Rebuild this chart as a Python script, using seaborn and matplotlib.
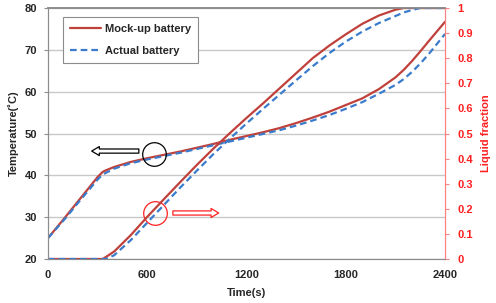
#!/usr/bin/env python3
"""Temperature and liquid fraction of the mock-up vs actual battery over time."""

import matplotlib.pyplot as plt
import pandas as pd
import seaborn as sns
from matplotlib.lines import Line2D

# values
TIME_S = [0, 100, 200, 300, 330, 350, 400, 500, 600, 700, 800, 900, 1000, 1100,
          1200, 1300, 1400, 1500, 1600, 1700, 1800, 1900, 2000, 2100, 2150,
          2200, 2250, 2300, 2400]
TEMP_MOCKUP = [25.0, 29.8, 34.7, 39.6, 40.8, 41.2, 42.0, 43.2, 44.1, 44.9, 45.7,
               46.6, 47.5, 48.5, 49.4, 50.3, 51.3, 52.5, 53.8, 55.2, 56.8, 58.4,
               60.6, 63.4, 65.2, 67.3, 69.6, 72.0, 76.7]
TEMP_ACTUAL = [25.0, 29.5, 34.3, 39.0, 40.2, 40.6, 41.6, 42.9, 43.8, 44.6, 45.4,
               46.3, 47.2, 48.1, 49.0, 49.9, 50.8, 51.9, 53.1, 54.4, 55.9, 57.5,
               59.5, 61.6, 63.0, 64.7, 66.7, 68.9, 73.8]
LF_MOCKUP = [0, 0, 0, 0, 0, 0.008, 0.03, 0.095, 0.168, 0.238, 0.307, 0.375, 0.44,
             0.502, 0.562, 0.62, 0.68, 0.74, 0.80, 0.85, 0.895, 0.937, 0.97,
             0.993, 1.0, 1.0, 1.0, 1.0, 1.0]
LF_ACTUAL = [0, 0, 0, 0, 0, 0, 0.015, 0.075, 0.145, 0.215, 0.285, 0.352, 0.418,
             0.48, 0.54, 0.598, 0.655, 0.712, 0.768, 0.82, 0.866, 0.906, 0.94,
             0.968, 0.982, 0.992, 1.0, 1.0, 1.0]

SERIES = ["Mock-up battery", "Actual battery"]
X_TICKS = [0, 600, 1200, 1800, 2400]
LF_TICKS = [0, 0.1, 0.2, 0.3, 0.4, 0.5, 0.6, 0.7, 0.8, 0.9, 1]
LF_TICK_LABELS = ["0", "0.1", "0.2", "0.3", "0.4", "0.5", "0.6", "0.7", "0.8", "0.9", "1"]

# annotation marks (time, temperature)
BLACK_CIRCLE = (642, 45.0)
BLACK_ARROW = (549, 264, 45.8)
RED_CIRCLE = (648, 30.9)
RED_ARROW = (755, 1032, 31.0)

RED = "#c0413b"
BLUE = "#3a7ccb"
AXIS_RED = "#ff2020"

df = pd.DataFrame({
    "time": TIME_S * 2,
    "temp": TEMP_MOCKUP + TEMP_ACTUAL,
    "lf": LF_MOCKUP + LF_ACTUAL,
    "battery": [SERIES[0]] * len(TIME_S) + [SERIES[1]] * len(TIME_S),
})

sns.set_style("white")
plt.rcParams["font.family"] = ["Liberation Sans", "DejaVu Sans"]
plt.rcParams["font.weight"] = "bold"
plt.rcParams["font.size"] = 8

fig = plt.figure(figsize=(4.96, 3.03), dpi=100)
ax = fig.add_axes([0.0968, 0.1452, 0.8004, 0.8284])
ax2 = ax.twinx()

palette = {SERIES[0]: RED, SERIES[1]: BLUE}
dashes = {SERIES[0]: "", SERIES[1]: (3, 1.8)}

sns.lineplot(data=df, x="time", y="temp", hue="battery", style="battery",
             palette=palette, dashes=dashes, linewidth=1.6, ax=ax, legend=False)
sns.lineplot(data=df, x="time", y="lf", hue="battery", style="battery",
             palette=palette, dashes=dashes, linewidth=1.6, ax=ax2, legend=False)

ax.set_xlim(0, 2400)
ax.set_ylim(20, 80)
ax.set_xticks(X_TICKS)
ax.set_yticks(range(20, 81, 10))
ax.yaxis.grid(True, color="#c8c8c8", linewidth=1)
ax.set_axisbelow(True)
ax.set_xlabel("Time(s)", fontweight="bold", labelpad=6)
ax.set_ylabel("Temperature(˚C)", fontweight="bold", labelpad=4)
ax.tick_params(axis="y", length=3, color="#909090", pad=5, labelsize=8)
ax.tick_params(axis="x", direction="inout", length=4, color="#909090", pad=6, labelsize=8)
for lab in ax.get_xticklabels() + ax.get_yticklabels():
    lab.set_fontweight("bold")

ax2.set_ylim(0, 1)
ax2.set_yticks(LF_TICKS)
ax2.set_yticklabels(LF_TICK_LABELS, color=AXIS_RED, fontweight="bold")
ax2.tick_params(axis="y", length=3, color="#ff8080", pad=6, labelsize=8)
ax2.set_ylabel("Liquid fraction", color=AXIS_RED, fontweight="bold", labelpad=6)

for a in (ax, ax2):
    for side in ("left", "bottom", "top"):
        a.spines[side].set_color("#8c8c8c")
    a.spines["right"].set_color("#ff8080")
    a.spines["top"].set_linewidth(1.2)

# circles and hollow arrows
ax.plot([BLACK_CIRCLE[0]], [BLACK_CIRCLE[1]], marker="o", ms=17, mfc="none",
        mec="black", mew=0.9, zorder=5)
ax.plot([RED_CIRCLE[0]], [RED_CIRCLE[1]], marker="o", ms=17, mfc="none",
        mec=AXIS_RED, mew=0.9, zorder=5)
arrow_style = "simple,head_length=0.55,head_width=0.65,tail_width=0.3"
ax.annotate("", xy=(BLACK_ARROW[1], BLACK_ARROW[2]), xytext=(BLACK_ARROW[0], BLACK_ARROW[2]),
            arrowprops=dict(arrowstyle=arrow_style, fc="white", ec="black", lw=0.9,
                            shrinkA=0, shrinkB=0, mutation_scale=10))
ax.annotate("", xy=(RED_ARROW[1], RED_ARROW[2]), xytext=(RED_ARROW[0], RED_ARROW[2]),
            arrowprops=dict(arrowstyle=arrow_style, fc="white", ec=AXIS_RED, lw=0.9,
                            shrinkA=0, shrinkB=0, mutation_scale=10))

handles = [
    Line2D([], [], color=RED, linewidth=1.6),
    Line2D([], [], color=BLUE, linewidth=1.6, dashes=(3, 1.8)),
]
leg = ax2.legend(handles, SERIES, loc="upper left", bbox_to_anchor=(0.038, 0.964),
                 borderaxespad=0, fancybox=False, framealpha=1, edgecolor="#8c8c8c",
                 handlelength=2.8, handletextpad=0.4, labelspacing=1.1,
                 borderpad=0.6, prop={"weight": "bold", "size": 8})
leg.get_frame().set_linewidth(0.8)

fig.savefig("out.png", dpi=100)
